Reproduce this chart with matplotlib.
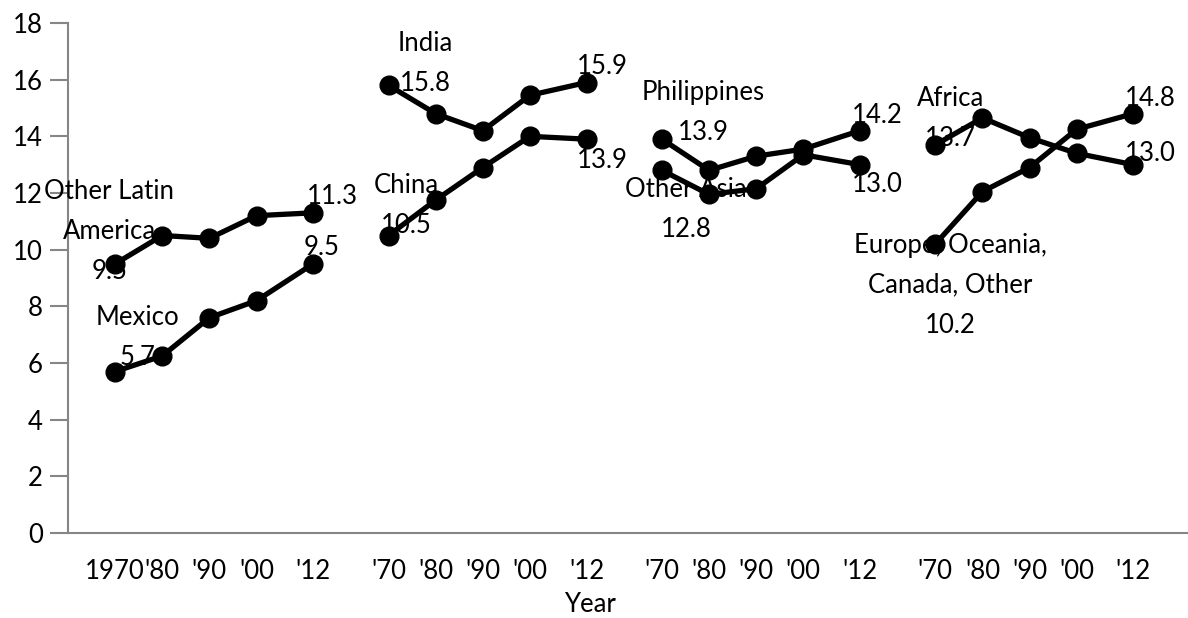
from matplotlib import pyplot as plt

plt.rcParams['font.family'] = ['Lato', 'DejaVu Sans']

# data
years = [1970, 1980, 1990, 2000, 2012]
year_labels = ['1970', "'80", "'90", "'00", "'12"]
group_gap = 58  # spacing between the four panels, in "years"

other_latin_america = [9.5, 10.5, 10.4, 11.2, 11.3]
mexico = [5.7, 6.25, 7.6, 8.2, 9.5]
india = [15.8, 14.8, 14.2, 15.45, 15.9]
china = [10.5, 11.75, 12.9, 14.0, 13.9]
philippines = [13.9, 12.8, 13.3, 13.55, 14.2]
other_asia = [12.8, 11.95, 12.15, 13.35, 13.0]
africa = [13.7, 14.65, 13.95, 13.4, 13.0]
europe_other = [10.2, 12.05, 12.9, 14.25, 14.8]

# (values, group, start label, start offset px, end offset px, end label)
series = [
    (other_latin_america, 0, 'Other Latin\nAmerica\n9.5', (-6, 32), (19, 16), '11.3'),
    (mexico, 0, 'Mexico\n5.7', (22, 34), (9, 16), '9.5'),
    (india, 1, 'India\n15.8', (37, 22), (16, 16), '15.9'),
    (china, 1, 'China\n10.5', (18, 30), (16, -21), '13.9'),
    (philippines, 2, 'Philippines\n13.9', (41, 27), (17, 15), '14.2'),
    (other_asia, 2, 'Other Asia\n12.8', (24, -39), (17, -20), '13.0'),
    (africa, 3, 'Africa\n13.7', (15, 26), (17, 11), '13.0'),
    (europe_other, 3, 'Europe, Oceania,\nCanada, Other\n10.2', (15, -41), (17, 15), '14.8'),
]

fig = plt.figure(figsize=(11.88, 6.18), dpi=100)
ax = fig.add_axes([68 / 1188, 85 / 618, 1120 / 1188, 510 / 618])

fs = 18.5
px = 0.72  # pixel -> points at 100 dpi

for vals, g, start_lbl, off0, off1, end_lbl in series:
    xs = [y + g * group_gap for y in years]
    ax.plot(xs, vals, color='black', lw=3.8, marker='o', ms=13.5, zorder=3)
    ax.annotate(start_lbl, (xs[0], vals[0]), xytext=(off0[0] * px, off0[1] * px),
                textcoords='offset points', ha='center', va='center',
                fontsize=fs, linespacing=1.75, zorder=4)
    ax.annotate(end_lbl, (xs[-1], vals[-1]), xytext=(off1[0] * px, off1[1] * px),
                textcoords='offset points', ha='center', va='center',
                fontsize=fs, zorder=4)

tick_pos = [y + g * group_gap for g in range(4) for y in years]
tick_lbl = year_labels + (["'70"] + year_labels[1:]) * 3
ax.set_xticks(tick_pos)
ax.set_xticklabels(tick_lbl, fontsize=fs)
ax.tick_params(axis='x', length=0, pad=19)

ax.set_xlim(1960, 2197.6)
ax.set_ylim(0, 18)
ax.set_yticks(range(0, 19, 2))
ax.tick_params(axis='y', labelsize=fs, length=13, width=1.5, color='#868686', pad=5)

for s in ['top', 'right']:
    ax.spines[s].set_visible(False)
for s in ['left', 'bottom']:
    ax.spines[s].set_color('#868686')
    ax.spines[s].set_linewidth(1.5)

ax.set_xlabel('Year', fontsize=fs)
ax.xaxis.label.set_va('center')
ax.xaxis.set_label_coords((590 - 68) / 1120, -72 / 510)

fig.savefig('out.png', dpi=100)
